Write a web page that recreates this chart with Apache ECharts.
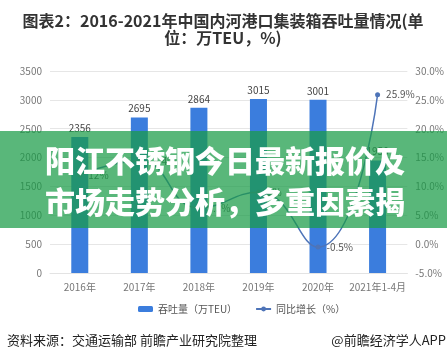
<!DOCTYPE html>
<html>
<head>
<meta charset="utf-8">
<script src="https://cdn.jsdelivr.net/npm/echarts@6/dist/echarts.min.js"></script>
<style>
  html, body { margin: 0; padding: 0; background: #fff; }
  #main { width: 447px; height: 361px; }
</style>
</head>
<body>
<div id="main"></div>
<script>
// categories and values
const years = ['2016年', '2017年', '2018年', '2019年', '2020年', '2021年1-4月'];
const throughput = [2356, 2695, 2864, 3015, 3001, 1950];
const growth = [12.0, 14.4, 6.3, 9.0, -0.5, 25.9];

const FONT = '"Noto Sans CJK SC", "Noto Sans", sans-serif';

let chartDom = document.getElementById('main');
let myChart = echarts.init(chartDom);
let option;

option = {
    textStyle: { fontFamily: FONT },
    animation: false,
    grid: { left: 50, right: 39, top: 71, bottom: 88 },
    legend: {
        top: 299,
        left: 133,
        itemWidth: 15,
        itemHeight: 6,
        itemGap: 18,
        textStyle: { fontSize: 10, color: '#555', fontFamily: FONT },
        data: ['吞吐量（万TEU）', '同比增长（%）']
    },
    xAxis: {
        type: 'category',
        data: years,
        axisTick: { show: false },
        axisLine: { lineStyle: { color: '#e3e3e3' } },
        axisLabel: { color: '#777', fontSize: 10, margin: 9, interval: 0 }
    },
    yAxis: [
        {
            type: 'value',
            min: 0,
            max: 3500,
            interval: 500,
            axisLabel: {
                color: '#777',
                fontSize: 10,
                margin: 8,
                formatter: function (v) { return String(v); }
            },
            splitLine: { lineStyle: { color: '#e6e6e6' } }
        },
        {
            type: 'value',
            min: -5,
            max: 30,
            interval: 5,
            axisLabel: {
                color: '#777',
                fontSize: 10,
                margin: 8,
                formatter: function (v) { return v.toFixed(1) + '%'; }
            },
            splitLine: { show: false }
        }
    ],
    series: [
        {
            name: '吞吐量（万TEU）',
            type: 'bar',
            data: throughput,
            barWidth: 17,
            itemStyle: { color: '#3b7ddd' },
            label: { show: true, position: 'top', distance: 4, color: '#444', fontSize: 10 }
        },
        {
            name: '同比增长（%）',
            type: 'line',
            yAxisIndex: 1,
            data: growth,
            smooth: true,
            symbol: 'circle',
            symbolSize: 5,
            lineStyle: { color: '#4e74b8', width: 1.5 },
            itemStyle: { color: '#4e74b8' },
            label: {
                show: true,
                position: 'right',
                distance: 6,
                color: '#555',
                fontSize: 10,
                formatter: '{c}%'
            }
        }
    ],
    graphic: [
        {
            type: 'text', x: 223, y: 21, z: 100,
            style: {
                text: '图表2：2016-2021年中国内河港口集装箱吞吐量情况(单',
                align: 'center', verticalAlign: 'middle',
                fontSize: 16, fontWeight: 'bold', fontFamily: FONT, fill: '#333'
            }
        },
        {
            type: 'text', x: 223, y: 38, z: 100,
            style: {
                text: '位：万TEU，%)',
                align: 'center', verticalAlign: 'middle',
                fontSize: 16, fontWeight: 'bold', fontFamily: FONT, fill: '#333'
            }
        },
        // green banner laid over the chart
        {
            type: 'rect', z: 100,
            shape: { x: 0, y: 131, width: 447, height: 97 },
            style: { fill: 'rgba(25,155,70,0.72)' }
        },
        {
            type: 'text', x: 45, y: 161, z: 101,
            style: {
                text: '阳江不锈钢今日最新报价及',
                verticalAlign: 'middle',
                fontSize: 30, fontWeight: 900, fontFamily: FONT, fill: '#fff'
            }
        },
        {
            type: 'text', x: 45, y: 202, z: 101,
            style: {
                text: '市场走势分析，多重因素揭',
                verticalAlign: 'middle',
                fontSize: 30, fontWeight: 900, fontFamily: FONT, fill: '#fff'
            }
        },
        // footer
        {
            type: 'text', x: 7, y: 340, z: 100,
            style: {
                text: '资料来源：交通运输部 前瞻产业研究院整理',
                verticalAlign: 'middle',
                fontSize: 13, fontFamily: FONT, fill: '#222'
            }
        },
        {
            type: 'text', x: 446, y: 340, z: 100,
            style: {
                text: '@前瞻经济学人APP',
                align: 'right', verticalAlign: 'middle',
                fontSize: 13, fontFamily: FONT, fill: '#222'
            }
        }
    ]
};

option && myChart.setOption(option);
</script>
</body>
</html>
